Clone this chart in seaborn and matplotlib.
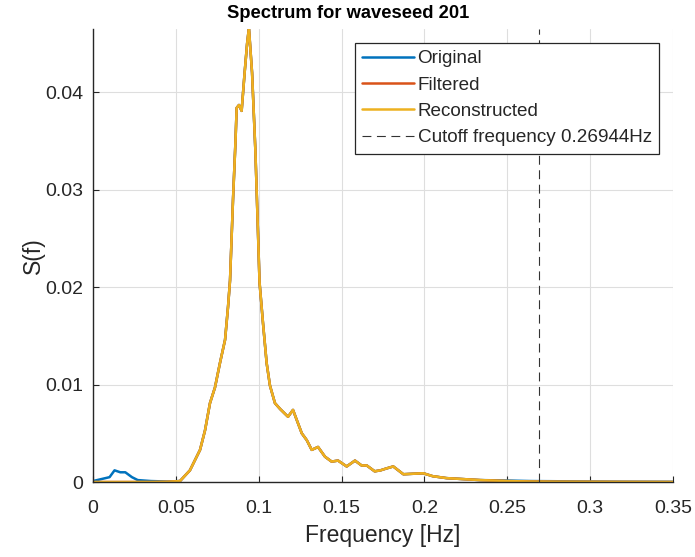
import matplotlib
matplotlib.use("Agg")
import matplotlib.pyplot as plt
import seaborn as sns
import pandas as pd

# ---- data ----
freq = [0.000, 0.005, 0.010, 0.013, 0.0165, 0.0195, 0.0235, 0.027, 0.035, 0.045,
        0.0525, 0.0585, 0.0646, 0.0676, 0.0706, 0.0736, 0.0766, 0.0797, 0.0815, 0.0827,
        0.0845, 0.0860, 0.0867, 0.0881, 0.0897, 0.0915, 0.0930, 0.0941, 0.0960, 0.0970,
        0.0980, 0.0995, 0.1005, 0.1026, 0.1048, 0.1068, 0.1098, 0.1129, 0.1177, 0.1207,
        0.1229, 0.1260, 0.1290, 0.1320, 0.1358, 0.1400, 0.1440, 0.1479, 0.1531, 0.1581,
        0.1621, 0.1652, 0.1700, 0.1735, 0.1772, 0.1812, 0.1873, 0.1993, 0.2050, 0.2134,
        0.2336, 0.2500, 0.2640, 0.2800, 0.3000, 0.3200, 0.3500]

reconstructed = [0.0000, 0.0000, 0.0000, 0.0000, 0.0000, 0.0000, 0.0000, 0.0000, 0.0000, 0.00002,
                 0.0001, 0.0012, 0.0033, 0.0053, 0.0081, 0.0097, 0.0122, 0.0146, 0.0180, 0.0207,
                 0.0290, 0.0350, 0.0384, 0.0387, 0.0381, 0.0420, 0.0450, 0.0466, 0.0420, 0.0380,
                 0.0340, 0.0260, 0.0205, 0.0163, 0.0122, 0.0099, 0.0081, 0.0075, 0.0067, 0.0074,
                 0.0064, 0.0050, 0.0043, 0.0033, 0.0036, 0.0026, 0.0021, 0.0022, 0.0016, 0.0022,
                 0.0017, 0.0017, 0.0011, 0.0012, 0.0014, 0.0016, 0.0008, 0.0009, 0.0006, 0.0004,
                 0.0002, 0.0001, 0.00005, 0.00003, 0.00002, 0.00001, 0.0000]

original = [0.0001, 0.0003, 0.0005, 0.0012, 0.0010, 0.0010, 0.0005, 0.0002, 0.0001, 0.00005,
            0.0001, 0.0012, 0.0033, 0.0053, 0.0081, 0.0097, 0.0122, 0.0146, 0.0180, 0.0207,
            0.0290, 0.0350, 0.0384, 0.0387, 0.0381, 0.0420, 0.0450, 0.0466, 0.0420, 0.0380,
            0.0340, 0.0260, 0.0205, 0.0163, 0.0122, 0.0099, 0.0081, 0.0075, 0.0067, 0.0074,
            0.0064, 0.0050, 0.0043, 0.0033, 0.0036, 0.0026, 0.0021, 0.0022, 0.0016, 0.0022,
            0.0017, 0.0017, 0.0011, 0.0012, 0.0014, 0.0016, 0.0008, 0.0009, 0.0006, 0.0004,
            0.0002, 0.00015, 0.0001, 0.00008, 0.00005, 0.00003, 0.00002]

filtered = reconstructed

cutoff = 0.26944
xticks = [0, 0.05, 0.1, 0.15, 0.2, 0.25, 0.3, 0.35]
xticklabels = ["0", "0.05", "0.1", "0.15", "0.2", "0.25", "0.3", "0.35"]
yticks = [0, 0.01, 0.02, 0.03, 0.04]
yticklabels = ["0", "0.01", "0.02", "0.03", "0.04"]

# ---- style ----
sns.set_theme(style="white")
plt.rcParams["font.family"] = ["Liberation Sans", "DejaVu Sans"]
dark = "#262626"

df = pd.DataFrame({"freq": freq, "Original": original,
                   "Filtered": filtered, "Reconstructed": reconstructed})

fig = plt.figure(figsize=(6.95, 5.57), dpi=100)
ax = fig.add_axes([0.1338, 0.1346, 0.8345, 0.8133])

lw = 1.8
sns.lineplot(data=df, x="freq", y="Original", ax=ax, color="#0072BD", lw=lw, label="Original")
sns.lineplot(data=df, x="freq", y="Filtered", ax=ax, color="#D95319", lw=lw, label="Filtered")
sns.lineplot(data=df, x="freq", y="Reconstructed", ax=ax, color="#EDB120", lw=lw, label="Reconstructed")
ax.axvline(cutoff, color="#333333", lw=0.8, ls=(0, (8, 5)),
           label=f"Cutoff frequency {cutoff}Hz")

ax.set_xlim(0, 0.35)
ax.set_ylim(0, 0.0465)
ax.set_xticks(xticks)
ax.set_xticklabels(xticklabels)
ax.set_yticks(yticks)
ax.set_yticklabels(yticklabels)

ax.grid(True, color="#dedede", lw=0.8)
ax.set_axisbelow(True)
for s in ["top", "right"]:
    ax.spines[s].set_visible(False)
for s in ["left", "bottom"]:
    ax.spines[s].set_color(dark)
    ax.spines[s].set_linewidth(1.0)

ax.tick_params(axis="both", direction="in", length=4, width=0.8, color=dark,
               labelsize=14, labelcolor=dark, left=True, bottom=True)
ax.tick_params(axis="x", pad=13)
ax.tick_params(axis="y", pad=7)

ax.set_xlabel("Frequency [Hz]", fontsize=16.5, color=dark, labelpad=5)
ax.set_ylabel("S(f)", fontsize=16.5, color=dark, labelpad=0)
ax.set_title("Spectrum for waveseed 201", fontsize=13.2, fontweight="bold",
             color="black", x=0.44, y=1.0, pad=8)

leg = ax.legend(loc="upper right", bbox_to_anchor=(0.976, 0.969), fontsize=13.6,
                frameon=True, fancybox=False, framealpha=1, edgecolor=dark,
                handlelength=2.75, handletextpad=0.2, labelspacing=0.48,
                borderpad=0.38, borderaxespad=0)
leg.get_frame().set_linewidth(0.9)
for t in leg.get_texts():
    t.set_color(dark)

fig.savefig("out.png", dpi=100)
